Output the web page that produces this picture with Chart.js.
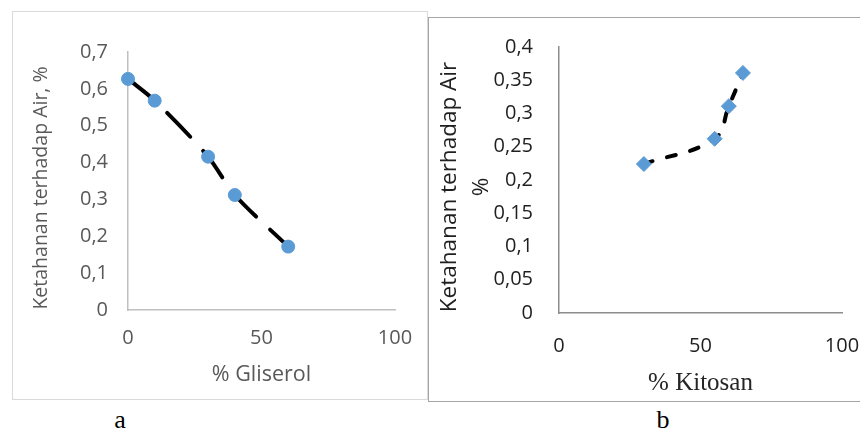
<!DOCTYPE html>
<html>
<head>
<meta charset="utf-8">
<script src="https://cdn.jsdelivr.net/npm/chart.js@4.4.1/dist/chart.umd.min.js"></script>
<style>
  html, body { margin: 0; padding: 0; background: #fff; width: 860px; height: 431px; overflow: hidden; }
  .box { position: absolute; background: #fff; }
  #boxA { left: 12px; top: 11px; width: 414px; height: 387px; border: 1px solid #d9d9d9; }
  #boxB { left: 428px; top: 17px; width: 438px; height: 383px; border: 1px solid #a6a6a6; }
  .cap { position: absolute; width: 40px; text-align: center; font: 26px "Liberation Serif", serif; line-height: 26px; color: #000; }
</style>
</head>
<body>
<div class="box" id="boxA"><canvas id="chartA"></canvas></div>
<div class="box" id="boxB"><canvas id="chartB"></canvas></div>
<div class="cap" style="left:100px; top:407px;">a</div>
<div class="cap" style="left:643px; top:407px;">b</div>
<script>
// chart a: gliserol
const gliserolX = [0, 10, 30, 40, 60];
const ketahananA = [0.627, 0.568, 0.416, 0.312, 0.172];
const yTickLabelsA = ['0', '0,1', '0,2', '0,3', '0,4', '0,5', '0,6', '0,7'];

// chart b: kitosan
const kitosanX = [30, 55, 60, 65];
const ketahananB = [0.224, 0.262, 0.311, 0.361];
const yTickLabelsB = ['0', '0,05', '0,1', '0,15', '0,2', '0,25', '0,3', '0,35', '0,4'];

const xTickLabels = ['0', '50', '100'];

const blue = '#5b9bd5';

// axis titles drawn relative to the chart area
function makeTitles(cfg) {
  return {
    id: 'axisTitles',
    afterDraw(chart) {
      const { ctx, chartArea: ca } = chart;
      ctx.save();
      ctx.textAlign = 'center';
      ctx.textBaseline = 'middle';
      ctx.fillStyle = cfg.xColor;
      ctx.font = cfg.xFont;
      ctx.fillText(cfg.xText, (ca.left + ca.right) / 2, ca.bottom + cfg.xOffset);
      ctx.fillStyle = cfg.yColor;
      ctx.font = cfg.yFont;
      const cy = (ca.top + ca.bottom) / 2 + cfg.yShift;
      cfg.yLines.forEach((line, i) => {
        ctx.save();
        ctx.translate(ca.left - cfg.yOffsets[i], cy);
        ctx.rotate(-Math.PI / 2);
        ctx.fillText(line, 0, 0);
        ctx.restore();
      });
      ctx.restore();
    }
  };
}

function toPoints(xs, ys) {
  return xs.map((x, i) => ({ x: x, y: ys[i] }));
}

// fixed scale size, no label overhang padding
function fixSize(s, w, h) {
  if (w !== null) s.width = w;
  if (h !== null) s.height = h;
  s.paddingTop = s.paddingBottom = s.paddingLeft = s.paddingRight = 0;
}

function makeChart(id, o) {
  return new Chart(document.getElementById(id), {
    type: 'scatter',
    data: {
      datasets: [{
        data: toPoints(o.xs, o.ys),
        showLine: true,
        borderColor: '#000',
        borderWidth: 4,
        borderDash: o.dash,
        borderCapStyle: 'round',
        tension: o.tension,
        pointStyle: o.pointStyle,
        pointRadius: o.pointRadius,
        pointBackgroundColor: blue,
        pointBorderColor: blue,
        pointBorderWidth: 1,
        clip: false
      }]
    },
    options: {
      responsive: true,
      maintainAspectRatio: false,
      animation: false,
      events: [],
      layout: { padding: { top: o.padTop, right: o.padRight, left: 0, bottom: 0 } },
      plugins: { legend: { display: false }, tooltip: { enabled: false } },
      scales: {
        x: {
          type: 'linear',
          min: 0, max: 100,
          grid: { display: false, drawTicks: false },
          border: { display: true, color: o.axisColor, width: 1.5 },
          ticks: {
            stepSize: 50,
            padding: o.xTickPad,
            color: o.tickColor,
            font: { family: 'Open Sans', size: 20 },
            maxRotation: 0,
            callback: (v, i) => xTickLabels[i]
          },
          afterFit: s => fixSize(s, null, o.xHeight)
        },
        y: {
          min: 0, max: o.yMax,
          grid: { display: false, drawTicks: false },
          border: { display: true, color: o.axisColor, width: 1.5 },
          ticks: {
            stepSize: o.yStep,
            padding: o.yTickPad,
            color: o.tickColor,
            font: { family: 'Open Sans', size: 20 },
            callback: (v, i) => o.yLabels[i]
          },
          afterFit: s => fixSize(s, o.yWidth, null)
        }
      }
    },
    plugins: [makeTitles(o.titles)]
  });
}

makeChart('chartA', {
  xs: gliserolX, ys: ketahananA, yLabels: yTickLabelsA,
  yMax: 0.7, yStep: 0.1,
  dash: [33, 19], tension: 0.3,
  pointStyle: 'circle', pointRadius: 6.5,
  padTop: 40, padRight: 32, yWidth: 115, xHeight: 89,
  xTickPad: 16, yTickPad: 20,
  axisColor: '#bfbfbf', tickColor: '#595959',
  titles: {
    xText: '% Gliserol', xFont: '21.5px "Open Sans"', xColor: '#595959', xOffset: 65,
    yLines: ['Ketahanan terhadap Air, %'], yFont: '19.5px "Open Sans"', yColor: '#595959',
    yOffsets: [87], yShift: 7
  }
});

makeChart('chartB', {
  xs: kitosanX, ys: ketahananB, yLabels: yTickLabelsB,
  yMax: 0.4, yStep: 0.05,
  dash: [9, 15], tension: 0.4,
  pointStyle: 'rectRot', pointRadius: 7.5,
  padTop: 29, padRight: 25, yWidth: 130, xHeight: 88,
  xTickPad: 21, yTickPad: 26,
  axisColor: '#8c8c8c', tickColor: '#1f1f1f',
  titles: {
    xText: '% Kitosan', xFont: '25px "Liberation Serif"', xColor: '#262626', xOffset: 70,
    yLines: ['Ketahanan terhadap Air', '%'], yFont: '22.5px "Open Sans"', yColor: '#1f1f1f',
    yOffsets: [109, 77], yShift: 7
  }
});
</script>
</body>
</html>
